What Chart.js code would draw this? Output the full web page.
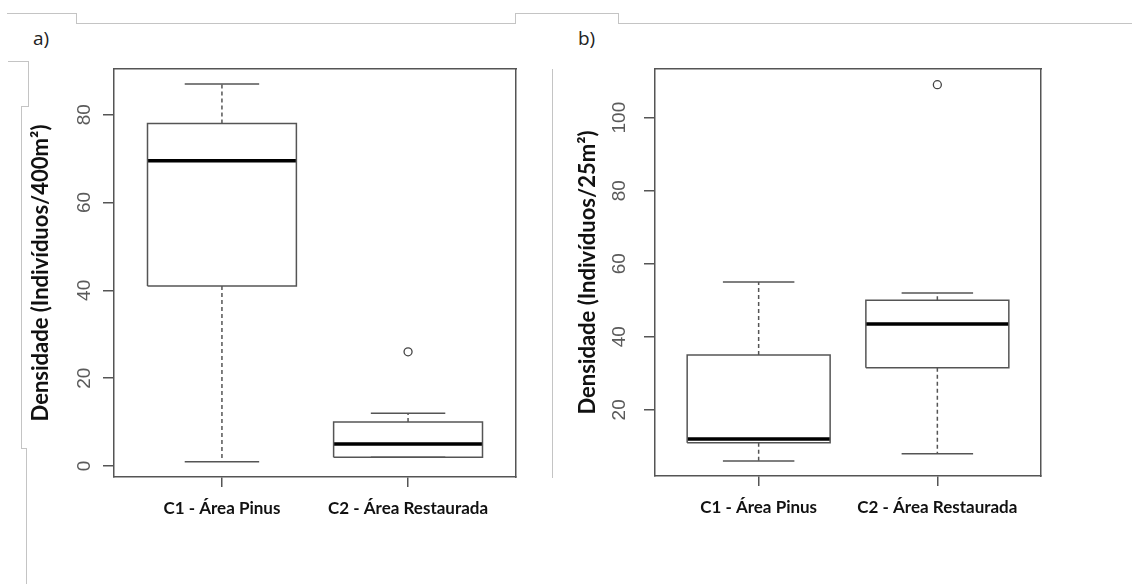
<!DOCTYPE html>
<html>
<head>
<meta charset="utf-8">
<script src="https://cdn.jsdelivr.net/npm/chart.js@4/dist/chart.umd.min.js"></script>
<style>
  body { margin: 0; background: #fff; width: 1132px; height: 584px; position: relative; overflow: hidden; }
  .ln { position: absolute; background: #c4c4c4; }
  .painel { position: absolute; top: 0; height: 584px; }
  .letra { position: absolute; top: 25px; font: 19px "Open Sans", sans-serif; color: #222; }
</style>
</head>
<body>
<!-- bordas da página (restos do documento original) -->
<div class="ln" style="left:7px;top:13px;width:70px;height:1px"></div>
<div class="ln" style="left:76px;top:13px;width:1px;height:11px"></div>
<div class="ln" style="left:76px;top:23px;width:440px;height:1px"></div>
<div class="ln" style="left:515px;top:13px;width:1px;height:11px"></div>
<div class="ln" style="left:515px;top:13px;width:104px;height:1px"></div>
<div class="ln" style="left:618px;top:13px;width:1px;height:11px"></div>
<div class="ln" style="left:618px;top:23px;width:514px;height:1px"></div>
<div class="ln" style="left:8px;top:61px;width:20px;height:1px"></div>
<div class="ln" style="left:28px;top:61px;width:1px;height:46px"></div>
<div class="ln" style="left:21px;top:106px;width:8px;height:1px"></div>
<div class="ln" style="left:21px;top:106px;width:1px;height:343px"></div>
<div class="ln" style="left:21px;top:448px;width:6px;height:1px"></div>
<div class="ln" style="left:26px;top:448px;width:1px;height:136px"></div>
<div class="ln" style="left:552px;top:69px;width:1px;height:409px"></div>

<div class="letra" style="left:33px">a)</div>
<div class="letra" style="left:578px">b)</div>

<div class="painel" style="left:0;width:550px"><canvas id="graficoA"></canvas></div>
<div class="painel" style="left:550px;width:582px"><canvas id="graficoB"></canvas></div>

<script>
// categorias
var categorias = ['C1 - Área Pinus', 'C2 - Área Restaurada'];

// a) densidade (indivíduos/400m²)
var minA = [1, 2];
var q1A = [41, 2];
var medianaA = [69.5, 5];
var q3A = [78, 10];
var maxA = [87, 12];
var outliersA = [[], [26]];
var ticksA = [0, 20, 40, 60, 80];

// b) densidade (indivíduos/25m²)
var minB = [6, 8];
var q1B = [11, 31.5];
var medianaB = [12, 43.5];
var q3B = [35, 50];
var maxB = [55, 52];
var outliersB = [[], [109]];
var ticksB = [20, 40, 60, 80, 100];

var corLinha = '#555';

// monta os datasets do boxplot (estilo R)
function montaBoxplot(mins, q1s, meds, q3s, maxs, outs) {
    var bigodes = [], pontas = [], caixas = [], medianas = [], pontos = [];
    for (var i = 0; i < categorias.length; i++) {
        var x = i + 1;
        bigodes.push({x: x, y: q3s[i]}, {x: x, y: maxs[i]}, {x: x, y: null});
        bigodes.push({x: x, y: q1s[i]}, {x: x, y: mins[i]}, {x: x, y: null});
        pontas.push({x: x - 0.2, y: maxs[i]}, {x: x + 0.2, y: maxs[i]}, {x: x, y: null});
        pontas.push({x: x - 0.2, y: mins[i]}, {x: x + 0.2, y: mins[i]}, {x: x, y: null});
        caixas.push({x: x - 0.4, y: q1s[i]}, {x: x + 0.4, y: q1s[i]}, {x: x + 0.4, y: q3s[i]},
                    {x: x - 0.4, y: q3s[i]}, {x: x - 0.4, y: q1s[i]}, {x: x, y: null});
        medianas.push({x: x - 0.4, y: meds[i]}, {x: x + 0.4, y: meds[i]}, {x: x, y: null});
        outs[i].forEach(function (v) { pontos.push({x: x, y: v}); });
    }
    var linha = {showLine: true, pointRadius: 0, spanGaps: false, borderColor: corLinha, borderWidth: 1.5};
    return [
        Object.assign({data: bigodes, borderDash: [4, 3]}, linha),
        Object.assign({data: pontas}, linha),
        Object.assign({data: caixas}, linha),
        Object.assign({}, linha, {data: medianas, borderColor: '#000', borderWidth: 3.5}),
        {data: pontos, showLine: false, pointRadius: 4, pointBorderWidth: 1.3,
         pointBorderColor: '#444', pointBackgroundColor: 'rgba(0,0,0,0)'}
    ];
}

function criaGrafico(id, datasets, ticksY, yMin, yMax, titulo, larguraY, padding, tituloPad) {
    var ctx = document.getElementById(id).getContext('2d');
    return new Chart(ctx, {
        type: 'scatter',
        data: {datasets: datasets},
        options: {
            responsive: true,
            maintainAspectRatio: false,
            animation: false,
            layout: {padding: padding},
            plugins: {legend: {display: false}, tooltip: {enabled: false}},
            scales: {
                x: {
                    type: 'linear', min: 0.42, max: 2.58,
                    afterBuildTicks: function (s) { s.ticks = categorias.map(function (c, i) { return {value: i + 1}; }); },
                    afterFit: function (s) { s.height = 60; },
                    ticks: {
                        callback: function (v) { return categorias[v - 1]; },
                        font: {family: 'Lato', weight: 'bold', size: 17}, color: '#111', padding: 11,
                        maxRotation: 0, autoSkip: false
                    },
                    grid: {drawOnChartArea: false, tickLength: 10, color: corLinha, lineWidth: 1.5},
                    border: {color: corLinha, width: 1.5}
                },
                y: {
                    min: yMin, max: yMax,
                    afterBuildTicks: function (s) { s.ticks = ticksY.map(function (v) { return {value: v}; }); },
                    afterFit: function (s) { s.width = larguraY; },
                    ticks: {
                        font: {family: 'Liberation Sans', size: 19}, color: '#5a5a5a',
                        minRotation: 90, maxRotation: 90, crossAlign: 'center', padding: 8
                    },
                    grid: {drawOnChartArea: false, tickLength: 11, color: corLinha, lineWidth: 1.5},
                    border: {color: corLinha, width: 1.5},
                    title: {display: true, text: titulo, color: '#111', padding: tituloPad,
                            font: {family: 'Lato', weight: 'bold', size: 22}}
                },
                topo: {
                    position: 'top', type: 'linear', min: 0, max: 1,
                    afterFit: function (s) { s.height = 0; },
                    ticks: {display: false}, grid: {display: false},
                    border: {color: corLinha, width: 1.5}
                },
                direita: {
                    position: 'right', type: 'linear', min: 0, max: 1,
                    afterFit: function (s) { s.width = 0; },
                    ticks: {display: false}, grid: {display: false},
                    border: {color: corLinha, width: 1.5}
                }
            }
        }
    });
}

criaGrafico('graficoA', montaBoxplot(minA, q1A, medianaA, q3A, maxA, outliersA), ticksA,
    -2.5, 90.4, 'Densidade (Indivíduos/400m²)', 114,
    {top: 69, right: 34, bottom: 47, left: 0}, {top: 28, bottom: 0});

criaGrafico('graficoB', montaBoxplot(minB, q1B, medianaB, q3B, maxB, outliersB), ticksB,
    1.9, 113.3, 'Densidade (Indivíduos/25m²)', 105,
    {top: 69, right: 91, bottom: 48, left: 0}, {top: 25, bottom: 0});
</script>
</body>
</html>
